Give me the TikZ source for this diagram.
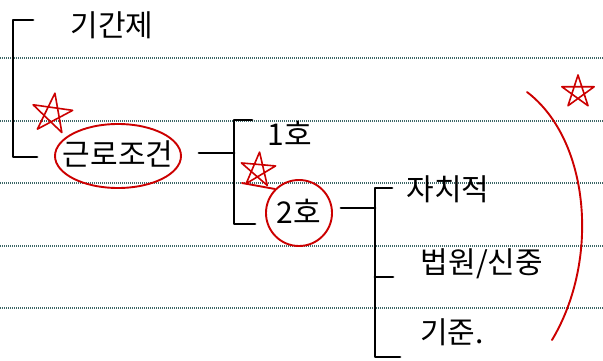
\documentclass[tikz,border=0pt]{standalone}
\usepackage{fontspec}
\newfontfamily\kr{Noto Sans CJK KR}
\usetikzlibrary{shapes.geometric}
\begin{document}
\begin{tikzpicture}[x=1pt,y=-1pt,
  txt/.style={font=\kr\fontsize{30}{33}\selectfont, inner sep=0pt},
  brk/.style={line width=2.8pt, black, line cap=round, line join=round},
  redl/.style={line width=1.9pt, red!80!black, line cap=round, line join=round},
  ruled/.style={line width=1.1pt, gray!60!teal!80!black, dash pattern=on 1pt off 1pt},
  redstar/.style={redl, line width=1.6pt}]
\useasboundingbox (0,0) rectangle (603,361);
\fill[white] (0,0) rectangle (603,361);
% ruled lines
\foreach \y in {58,121,183,246,308} \draw[ruled] (0,\y) -- (603,\y);
% texts
\node[txt] (gigan) at (112,25) {기간제};
\node[txt] (geunro) at (118,154) {근로조건};
\node[txt] (ho1) at (290,133) {1호};
\node[txt] (ho2) at (299,211) {2호};
\node[txt] (jachi) at (448,189) {자치적};
\node[txt] (beob) at (482,264) {법원/신중};
\node[txt] (gijun) at (452,332) {기준.};
% red circles
\node[ellipse, draw=red!80!black, line width=1.9pt, minimum width=126pt, minimum height=64pt] (c1) at (118,156) {};
\node[circle, draw=red!80!black, line width=1.9pt, minimum size=66pt] (c2) at (299,213) {};
% bracket 1
\coordinate (b1t) at (13,20);
\coordinate (b1b) at (13,157);
\draw[brk] (33,20) -- (b1t) -- (b1b) -- (37,157);
% bracket 2
\coordinate (b2t) at (234,120);
\coordinate (b2m) at (234,153);
\coordinate (b2b) at (234,224);
\draw[brk] (252,120) -- (b2t) -- (b2b) -- (255,224);
\draw[brk] (c1.east |- b2m) ++(17,0) -- (b2m);
% bracket 3
\coordinate (b3t) at (375,188);
\coordinate (b3m) at (375,208);
\coordinate (b3b) at (375,357);
\draw[brk] (392,188) -- (b3t) -- (b3b) -- (400,357);
\draw[brk] (375,277) -- (393,277);
\draw[brk] (c2.east |- b3m) ++(8,0) -- (b3m);
% stars
\foreach \cx/\cy/\r/\rot in {52/114/21/8, 258/170/18/5, 578/92/17/0}{
  \draw[redstar, shift={(\cx,\cy)}] (-90+\rot:\r) -- (54+\rot:\r) -- (198+\rot:\r) -- (342+\rot:\r) -- (126+\rot:\r) -- cycle;
}
\draw[redl] (242,183) -- (c2.north west);
% red arc
\coordinate (arcA) at (527,92);
\coordinate (arcB) at (552,340);
\draw[redl] (arcA) .. controls (590,140) and (600,260) .. (arcB);
\end{tikzpicture}
\end{document}
